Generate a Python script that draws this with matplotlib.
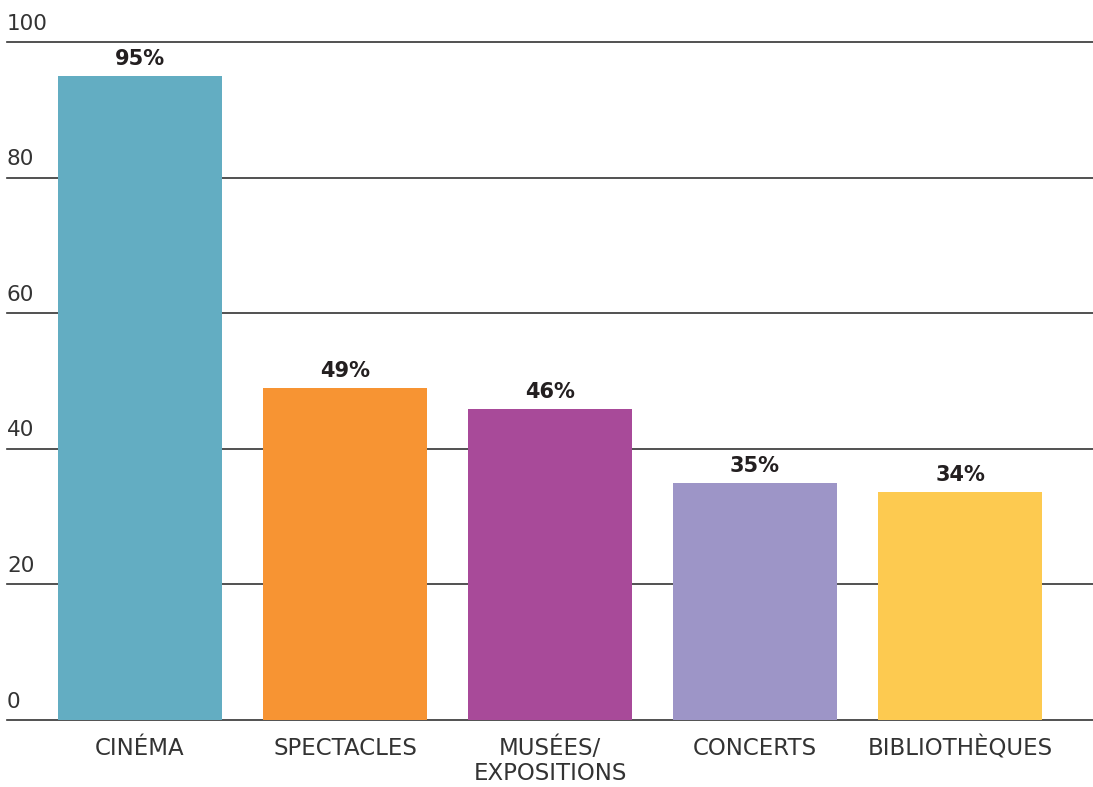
import numpy as np
import matplotlib.pyplot as plt
from matplotlib import transforms

categories = ['CINÉMA', 'SPECTACLES', 'MUSÉES/\nEXPOSITIONS', 'CONCERTS', 'BIBLIOTHÈQUES']
values = [95, 49, 45.9, 35, 33.6]
labels = ['95%', '49%', '46%', '35%', '34%']
colors = ['#63adc2', '#f79433', '#a84a99', '#9d95c7', '#fdca50']
yticks = [0, 20, 40, 60, 80, 100]

plt.rcParams['font.family'] = ['DejaVu Sans']
txt = '#231f20'

fig = plt.figure(figsize=(10.93, 7.87), dpi=100)
ax = fig.add_axes([0, 67 / 787, 1, 678 / 787])

x = np.arange(len(categories))
ax.set_xlim((0 - 140) / 205, (1093 - 140) / 205)
ax.set_ylim(0, 100)

# grid lines, starting a bit right of the left edge
for t in yticks:
    ax.axhline(t, xmin=7 / 1093, xmax=1, color='#333333', lw=1.2, zorder=1, clip_on=False)

ax.bar(x, values, width=0.8, color=colors, zorder=2)

# y labels above the lines, left aligned
trans = transforms.blended_transform_factory(fig.transFigure, ax.transData)
for t in yticks:
    ax.text(7 / 1093, t, str(t), transform=trans + transforms.ScaledTranslation(0, 6 / 72, fig.dpi_scale_trans),
            ha='left', va='bottom', fontsize=15.5, color='#333333')

for xi, v, lab in zip(x, values, labels):
    ax.annotate(lab, (xi, v), xytext=(0, 5), textcoords='offset points',
                ha='center', va='bottom', fontsize=15, fontweight='bold', color=txt)

ax.set_xticks(x)
ax.set_xticklabels(categories, fontsize=16.5, color='#333333', linespacing=1.12)
ax.tick_params(axis='x', length=0, pad=12)
ax.set_yticks([])
for s in ax.spines.values():
    s.set_visible(False)

fig.savefig('out.png', dpi=100)
